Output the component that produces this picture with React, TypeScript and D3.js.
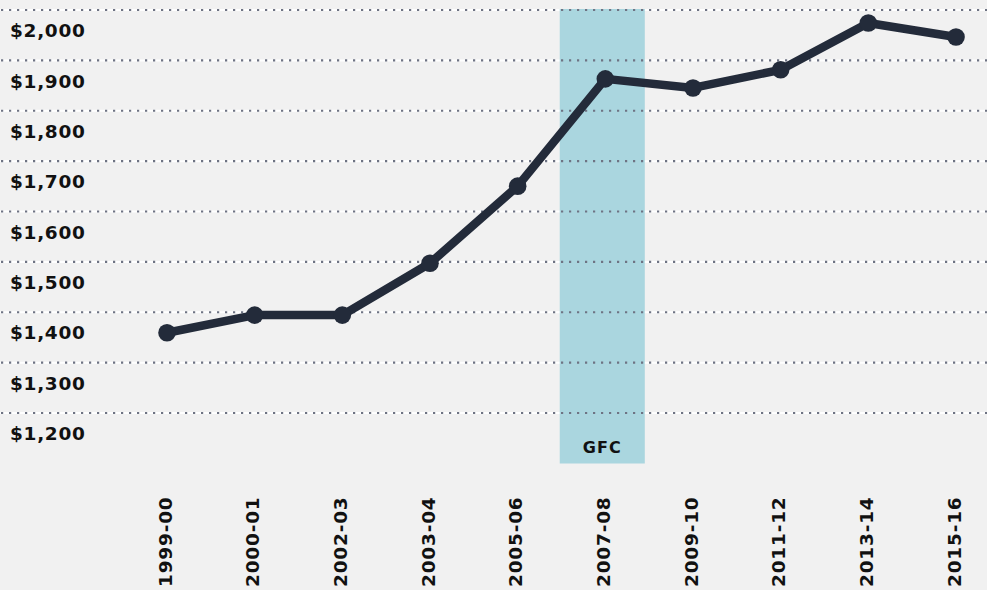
import React from "react";
import * as d3 from "d3";

const categories = ["1999-00", "2000-01", "2002-03", "2003-04", "2005-06", "2007-08", "2009-10", "2011-12", "2013-14", "2015-16"];
const values = [1400, 1435, 1435, 1538, 1691, 1904, 1886, 1922, 2015, 1987];
const yTicks = [2000, 1900, 1800, 1700, 1600, 1500, 1400, 1300, 1200];
const bandCategory = "2007-08";
const bandLabel = "GFC";

const W = 987;
const H = 590;
const FONT = "'DejaVu Sans', sans-serif";

export default function App() {
  const x = d3.scalePoint<string>().domain(categories).range([167, 956]);
  const step = x.step();
  const y = d3.scaleLinear().domain([1200, 2000]).range([433.5, 30.5]);
  const line = d3
    .line<number>()
    .x((_, i) => x(categories[i]) as number)
    .y((d) => y(d));
  const fmt = (v: number) => "$" + d3.format(",")(v);
  const bx = x(bandCategory) as number;
  const gridOffset = 20.5;
  const bandTop = y(yTicks[0]) - gridOffset;
  const bandBottom = y(yTicks[yTicks.length - 1]) + 30;

  return (
    <svg
      width={W}
      height={H}
      style={{ position: "absolute", left: 0, top: 0, background: "#f1f1f1" }}
    >
      <rect x={0} y={0} width={W} height={H} fill="#f1f1f1" />
      {yTicks.map((t) => (
        <line key={"w" + t} x1={0} x2={W} y1={y(t) - gridOffset} y2={y(t) - gridOffset} stroke="#ffffff" strokeWidth={2} />
      ))}
      <rect
        x={bx - step * 0.52}
        y={bandTop - 1}
        width={step * 0.97}
        height={bandBottom - bandTop + 1}
        fill="#aad6df"
      />
      {yTicks.map((t) => (
        <line
          key={"g" + t}
          x1={1}
          x2={W}
          y1={y(t) - gridOffset}
          y2={y(t) - gridOffset}
          stroke="#6e7383"
          strokeWidth={2.2}
          strokeDasharray="2.2,5.8"
        />
      ))}
      {yTicks.map((t) => (
        <text
          key={"l" + t}
          x={10}
          y={y(t)}
          dy="0.36em"
          fontFamily={FONT}
          fontWeight="bold"
          fontSize={18.5}
          letterSpacing={0.7}
          fill="#111"
        >
          {fmt(t)}
        </text>
      ))}
      <text
        x={bx - 3}
        y={bandBottom - 11}
        textAnchor="middle"
        fontFamily={FONT}
        fontWeight="bold"
        fontSize={16}
        letterSpacing={1.2}
        fill="#111"
      >
        {bandLabel}
      </text>
      <path d={line(values) || ""} fill="none" stroke="#232b3a" strokeWidth={8.5} strokeLinejoin="round" />
      {values.map((v, i) => (
        <circle key={"c" + i} cx={x(categories[i]) as number} cy={y(v)} r={8.8} fill="#232b3a" />
      ))}
      {categories.map((c) => (
        <text
          key={"x" + c}
          transform={`translate(${(x(c) as number) - 2},587) rotate(-90)`}
          dy="0.36em"
          textAnchor="start"
          fontFamily={FONT}
          fontWeight="bold"
          fontSize={18.5}
          letterSpacing={0.8}
          fill="#111"
        >
          {c}
        </text>
      ))}
    </svg>
  );
}
